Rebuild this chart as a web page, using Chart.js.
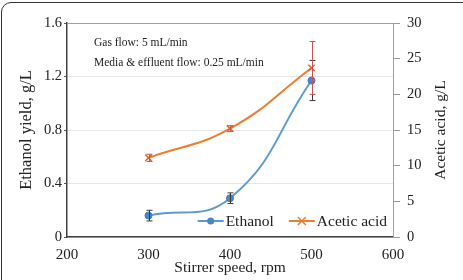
<!DOCTYPE html>
<html>
<head>
<meta charset="utf-8">
<script src="https://cdn.jsdelivr.net/npm/chart.js@4/dist/chart.umd.min.js"></script>
<style>
  html, body { margin: 0; padding: 0; background: #fff; overflow: hidden; }
  #wrap { position: relative; width: 463px; height: 280px; overflow: hidden; }
  #frame { position: absolute; left: 1px; top: 2px; width: 500px; height: 320px;
           border: 1.5px solid #333; border-radius: 10px; pointer-events: none; }
  canvas { position: absolute; left: 0; top: 0; }
  #probe { position: absolute; left: -999px; top: 0; font-family: "Liberation Serif"; }
</style>
</head>
<body>
<div id="wrap">
  <canvas id="c" width="463" height="280"></canvas>
  <div id="frame"></div>
</div>
<span id="probe">Stirrer speed</span>
<script>
// ---- data ----
const speeds = [300, 400, 500];
const ethanol = [0.16, 0.29, 1.17];
const ethanolErr = [0.04, 0.04, 0.15];
const acetic = [11.1, 15.2, 23.7];
const aceticErr = [0.5, 0.4, 3.7];
const xTicks = [200, 300, 400, 500, 600];
const leftTicks = [0, 0.4, 0.8, 1.2, 1.6];
const rightTicks = [0, 5, 10, 15, 20, 25, 30];
const notes = ['Gas flow: 5 mL/min', 'Media & effluent flow: 0.25 mL/min'];
const seriesNames = ['Ethanol', 'Acetic acid'];
const axisTitles = { x: 'Stirrer speed, rpm', y: 'Ethanol yield, g/L', y2: 'Acetic acid, g/L' };

const SERIF = "'Liberation Serif', Tinos, 'Times New Roman', 'DejaVu Serif', serif";
const TXT = '#222';

const errorBars = {
  id: 'errorBars',
  afterDatasetsDraw(chart) {
    const ctx = chart.ctx;
    const xs = chart.scales.x;
    chart.data.datasets.forEach((ds) => {
      const ys = chart.scales[ds.yAxisID];
      ctx.save();
      ctx.strokeStyle = ds.errColor;
      ctx.lineWidth = 1;
      ds.data.forEach((pt, i) => {
        const e = ds.errors[i];
        const px = Math.round(xs.getPixelForValue(pt.x)) + 0.5;
        const top = ys.getPixelForValue(pt.y + e);
        const bot = ys.getPixelForValue(pt.y - e);
        ctx.beginPath();
        ctx.moveTo(px, top); ctx.lineTo(px, bot);
        ctx.moveTo(px - 3, top); ctx.lineTo(px + 3, top);
        ctx.moveTo(px - 3, bot); ctx.lineTo(px + 3, bot);
        ctx.stroke();
      });
      ctx.restore();
    });
  }
};

const extras = {
  id: 'extras',
  beforeDatasetsDraw(chart) {
    const { ctx, chartArea: a } = chart;
    ctx.save();
    ctx.strokeStyle = '#a0a0a0';
    ctx.lineWidth = 1;
    ctx.beginPath();
    ctx.moveTo(a.left, a.top + 0.5);
    ctx.lineTo(a.right, a.top + 0.5);
    ctx.stroke();
    ctx.restore();
  },
  afterDraw(chart) {
    const { ctx, chartArea: a } = chart;
    ctx.save();
    ctx.fillStyle = TXT;
    ctx.font = '11.5px ' + SERIF;
    ctx.textBaseline = 'middle';
    ctx.textAlign = 'left';
    notes.forEach((t, i) => ctx.fillText(t, a.left + 27, a.top + 20 + i * 20));
    ctx.save();
    ctx.translate(441, (a.top + a.bottom) / 2);
    ctx.rotate(-Math.PI / 2);
    ctx.font = '15.5px ' + SERIF;
    ctx.textAlign = 'center';
    ctx.fillText(axisTitles.y2, 0, 0);
    ctx.restore();
    ctx.font = '15.5px ' + SERIF;
    const lineLen = 26, gap = 2, spacing = 15;
    const ds = chart.data.datasets;
    const widths = ds.map(d => ctx.measureText(d.label).width);
    let total = 0;
    widths.forEach((w, i) => { total += lineLen + gap + w + (i ? spacing : 0); });
    let x = a.right - 6 - total;
    const y = a.bottom - 16;
    ds.forEach((d, i) => {
      ctx.strokeStyle = d.borderColor;
      ctx.lineWidth = 2;
      ctx.beginPath();
      ctx.moveTo(x, y); ctx.lineTo(x + lineLen, y);
      ctx.stroke();
      const mx = x + lineLen / 2;
      if (d.pointStyle === 'circle') {
        ctx.fillStyle = d.pointBackgroundColor;
        ctx.beginPath(); ctx.arc(mx, y, 3.5, 0, Math.PI * 2); ctx.fill();
      } else {
        ctx.lineWidth = 1.5;
        ctx.beginPath();
        ctx.moveTo(mx - 4, y - 4); ctx.lineTo(mx + 4, y + 4);
        ctx.moveTo(mx - 4, y + 4); ctx.lineTo(mx + 4, y - 4);
        ctx.stroke();
      }
      ctx.fillStyle = TXT;
      ctx.fillText(d.label, x + lineLen + gap, y + 1);
      x += lineLen + gap + widths[i] + spacing;
    });
    ctx.restore();
  }
};

function draw() {
  new Chart(document.getElementById('c'), {
    type: 'line',
    data: {
      datasets: [
        {
          label: seriesNames[0],
          data: speeds.map((s, i) => ({ x: s, y: ethanol[i] })),
          errors: ethanolErr,
          errColor: '#3a3a3a',
          yAxisID: 'y',
          borderColor: '#5B9BD5',
          borderWidth: 2,
          tension: 0.45,
          pointStyle: 'circle',
          pointRadius: 3.5,
          pointBackgroundColor: '#4A86C8',
          pointBorderColor: '#3F78B5',
          pointBorderWidth: 1
        },
        {
          label: seriesNames[1],
          data: speeds.map((s, i) => ({ x: s, y: acetic[i] })),
          errors: aceticErr,
          errColor: '#c8505a',
          yAxisID: 'y2',
          borderColor: '#ED7D31',
          borderWidth: 2,
          tension: 0.45,
          pointStyle: 'crossRot',
          pointRadius: 4.5,
          pointBorderColor: '#E06A20',
          pointBorderWidth: 1.5
        }
      ]
    },
    options: {
      responsive: false,
      animation: false,
      layout: { padding: { top: 23, left: 0, right: 0, bottom: 0 } },
      plugins: { legend: { display: false }, tooltip: { enabled: false } },
      scales: {
        x: {
          type: 'linear',
          min: xTicks[0], max: xTicks[xTicks.length - 1],
          afterBuildTicks: s => { s.ticks = xTicks.map(v => ({ value: v })); },
          ticks: { color: TXT, font: { family: SERIF, size: 15 }, padding: 1 },
          grid: { display: false },
          border: { color: '#404040', width: 1.5 },
          title: { display: true, text: axisTitles.x, color: TXT,
                   font: { family: SERIF, size: 15.5, lineHeight: 1.2 }, padding: { top: 0, bottom: 3 } },
          afterFit: s => { s.height = 43; }
        },
        y: {
          position: 'left',
          min: 0, max: 1.6,
          afterBuildTicks: s => { s.ticks = leftTicks.map(v => ({ value: v })); },
          ticks: { color: TXT, font: { family: SERIF, size: 14.5 }, padding: 2,
                   callback: v => (v === 0 ? '0' : v.toFixed(1)) },
          grid: { color: '#e6e6e6', tickLength: 3, tickColor: '#555', drawTicks: true },
          border: { color: '#404040', width: 1.5 },
          title: { display: true, text: axisTitles.y, color: TXT,
                   font: { family: SERIF, size: 16.5, lineHeight: 1.2 }, padding: { top: 17, bottom: 0 } },
          afterFit: s => { s.width = 67; }
        },
        y2: {
          position: 'right',
          min: 0, max: 30,
          afterBuildTicks: s => { s.ticks = rightTicks.map(v => ({ value: v })); },
          ticks: { color: TXT, font: { family: SERIF, size: 14.5 }, padding: 7 },
          grid: { drawOnChartArea: false, tickLength: 7, tickColor: '#999' },
          border: { color: '#a0a0a0', width: 1 },
          title: { display: false },
          afterFit: s => { s.width = 70; }
        }
      }
    },
    plugins: [errorBars, extras]
  });
}

if (document.fonts && document.fonts.load) {
  Promise.all([
    document.fonts.load("16px 'Liberation Serif'"),
    document.fonts.load("16px Tinos")
  ]).then(draw, draw);
} else {
  draw();
}
</script>
</body>
</html>
